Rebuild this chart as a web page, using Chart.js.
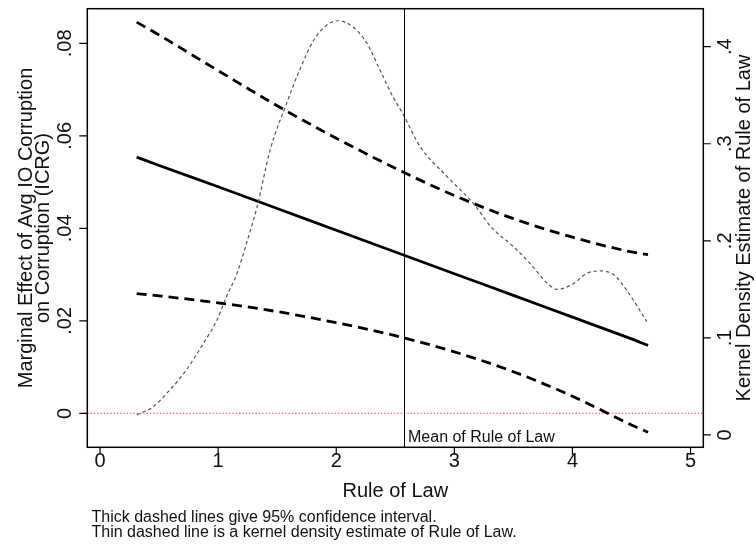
<!DOCTYPE html>
<html>
<head>
<meta charset="utf-8">
<script src="https://cdn.jsdelivr.net/npm/chart.js@4.4.1/dist/chart.umd.min.js"></script>
<style>
	body { margin: 0; background: #fff; }
	#wrap { width: 756px; height: 544px; }
</style>
</head>
<body>
<div id="wrap"><canvas id="meChart" width="756" height="544"></canvas></div>
<script>
/* Marginal effect and 95% CI */
var ruleGrid = [0.31, 0.5, 1, 1.5, 2, 2.5, 3, 3.5, 4, 4.5, 4.64];
var effect = [0.0554, 0.0536, 0.0490, 0.0443, 0.0396, 0.0349, 0.0302, 0.0255, 0.0208, 0.0161, 0.0147];
var ciUpper = [0.0846, 0.0818, 0.0741, 0.0665, 0.0595, 0.0530, 0.0471, 0.0421, 0.0381, 0.0349, 0.0343];
var ciLower = [0.0259, 0.0254, 0.0239, 0.0220, 0.0196, 0.0168, 0.0133, 0.0090, 0.0037, -0.0025, -0.0041];

/* Kernel density of Rule of Law (right axis) */
var densX = [0.31, 0.45, 0.59, 0.73, 0.875, 0.99, 1.07, 1.16, 1.24, 1.33, 1.44, 1.58, 1.69, 1.81, 1.92, 2.02, 2.14, 2.26, 2.37, 2.48, 2.57, 2.71, 2.94, 3.16, 3.31, 3.50, 3.64, 3.79, 3.87, 4.01, 4.12, 4.24, 4.35, 4.46, 4.63];
var densY = [0.0206, 0.0291, 0.0463, 0.0669, 0.0944, 0.1184, 0.1424, 0.1665, 0.1974, 0.2351, 0.2935, 0.3416, 0.376, 0.4068, 0.4222, 0.4267, 0.4205, 0.4034, 0.376, 0.3484, 0.3296, 0.297, 0.266, 0.2386, 0.2145, 0.194, 0.1768, 0.156, 0.150, 0.156, 0.1665, 0.169, 0.165, 0.149, 0.1167];

var meanRule = 2.57;

/* Tick values and labels */
var xTicks = [0, 1, 2, 3, 4, 5];
var xTickLabels = ["0", "1", "2", "3", "4", "5"];
var yTicks = [0, 0.02, 0.04, 0.06, 0.08];
var yTickLabels = ["0", ".02", ".04", ".06", ".08"];
var densTicks = [0, 0.1, 0.2, 0.3, 0.4];
var densTickLabels = ["0", ".1", ".2", ".3", ".4"];

var xTitle = "Rule of Law";
var yTitle = ["Marginal Effect of Avg IO Corruption", "on Corruption (ICRG)"];
var densTitle = "Kernel Density Estimate of Rule of Law";
var meanLabel = "Mean of Rule of Law";
var notes = ["Thick dashed lines give 95% confidence interval.", "Thin dashed line is a kernel density estimate of Rule of Law."];

var fontFamily = "'Liberation Sans', Arial, Helvetica, sans-serif";

function toPoints(xs, ys) {
	var pts = [];
	for (var i = 0; i < xs.length; i++) {
		pts.push({ x: xs[i], y: ys[i] });
	}
	return pts;
}

// rotated text, centred on (cx, cy), reading bottom to top
function rotatedText(ctx, text, cx, cy, size) {
	ctx.save();
	ctx.translate(cx, cy);
	ctx.rotate(-Math.PI / 2);
	ctx.textAlign = "center";
	ctx.textBaseline = "alphabetic";
	ctx.fillText(text, 0, size * 0.716 / 2);
	ctx.restore();
}

var stataDecor = {
	id: "stataDecor",
	beforeDatasetsDraw: function (chart) {
		var ctx = chart.ctx;
		var area = chart.chartArea;
		var y0 = chart.scales.y.getPixelForValue(0);
		ctx.save();
		ctx.strokeStyle = "#ff5050";
		ctx.lineWidth = 1.2;
		ctx.setLineDash([1.2, 2.1]);
		ctx.beginPath();
		ctx.moveTo(area.left, y0);
		ctx.lineTo(area.right, y0);
		ctx.stroke();
		ctx.restore();
	},
	afterDatasetsDraw: function (chart) {
		var ctx = chart.ctx;
		var area = chart.chartArea;
		var xs = chart.scales.x;
		var ys = chart.scales.y;
		var yr = chart.scales.yR;
		var i;

		// mean line and its label
		var xm = Math.round(xs.getPixelForValue(meanRule)) + 0.5;
		ctx.save();
		ctx.strokeStyle = "#000";
		ctx.lineWidth = 1;
		ctx.beginPath();
		ctx.moveTo(xm, area.top);
		ctx.lineTo(xm, area.bottom);
		ctx.stroke();
		ctx.fillStyle = "#111";
		ctx.font = "16px " + fontFamily;
		ctx.textAlign = "left";
		ctx.textBaseline = "alphabetic";
		ctx.fillText(meanLabel, xm + 3.5, area.bottom - 5.5);

		// frame
		ctx.lineWidth = 1.5;
		ctx.strokeRect(area.left, area.top, area.right - area.left, area.bottom - area.top);

		// tick marks
		ctx.lineWidth = 1.2;
		ctx.beginPath();
		for (i = 0; i < xTicks.length; i++) {
			var px = xs.getPixelForValue(xTicks[i]);
			ctx.moveTo(px, area.bottom);
			ctx.lineTo(px, area.bottom + 7.5);
		}
		for (i = 0; i < yTicks.length; i++) {
			var py = ys.getPixelForValue(yTicks[i]);
			ctx.moveTo(area.left - 8, py);
			ctx.lineTo(area.left, py);
		}
		for (i = 0; i < densTicks.length; i++) {
			var pr = yr.getPixelForValue(densTicks[i]);
			ctx.moveTo(area.right, pr);
			ctx.lineTo(area.right + 7.5, pr);
		}
		ctx.stroke();

		// tick labels
		ctx.fillStyle = "#111";
		ctx.font = "20px " + fontFamily;
		ctx.textAlign = "center";
		for (i = 0; i < xTicks.length; i++) {
			ctx.fillText(xTickLabels[i], xs.getPixelForValue(xTicks[i]), area.bottom + 19.5);
		}
		for (i = 0; i < yTicks.length; i++) {
			rotatedText(ctx, yTickLabels[i], area.left - 23, ys.getPixelForValue(yTicks[i]), 20);
		}
		for (i = 0; i < densTicks.length; i++) {
			rotatedText(ctx, densTickLabels[i], area.right + 20.5, yr.getPixelForValue(densTicks[i]), 20);
		}

		// axis titles
		var midX = (area.left + area.right) / 2;
		var midY = (area.top + area.bottom) / 2;
		ctx.textAlign = "center";
		ctx.fillText(xTitle, midX, area.bottom + 49.5);
		rotatedText(ctx, yTitle[0], 24.5, midY, 20);
		rotatedText(ctx, yTitle[1], 42, midY, 20);
		rotatedText(ctx, densTitle, 743, midY, 20);

		// notes under the graph
		ctx.font = "16px " + fontFamily;
		ctx.textAlign = "left";
		ctx.fillText(notes[0], 91.5, 521.5);
		ctx.fillText(notes[1], 91.5, 537);
		ctx.restore();
	}
};

window.addEventListener("DOMContentLoaded", function () {
	const ctx = document.getElementById("meChart").getContext("2d");
	const data = {
		datasets: [
			{
				label: "density",
				data: toPoints(densX, densY),
				yAxisID: "yR",
				borderColor: "#555555",
				borderWidth: 1.2,
				borderDash: [3.5, 2.8],
				cubicInterpolationMode: "monotone",
				pointRadius: 0,
				fill: false
			},
			{
				label: "upper",
				data: toPoints(ruleGrid, ciUpper),
				yAxisID: "y",
				borderColor: "#000",
				borderWidth: 2.8,
				borderDash: [10, 6],
				cubicInterpolationMode: "monotone",
				pointRadius: 0,
				fill: false
			},
			{
				label: "lower",
				data: toPoints(ruleGrid, ciLower),
				yAxisID: "y",
				borderColor: "#000",
				borderWidth: 2.8,
				borderDash: [10, 6],
				cubicInterpolationMode: "monotone",
				pointRadius: 0,
				fill: false
			},
			{
				label: "effect",
				data: toPoints(ruleGrid, effect),
				yAxisID: "y",
				borderColor: "#000",
				borderWidth: 2.8,
				cubicInterpolationMode: "monotone",
				pointRadius: 0,
				fill: false
			}
		]
	};
	const options = {
		responsive: false,
		animation: false,
		devicePixelRatio: 1,
		layout: {
			padding: { left: 87.3, right: 52.7, top: 8.7, bottom: 96.7 }
		},
		plugins: {
			legend: { display: false },
			tooltip: { enabled: false }
		},
		scales: {
			x: { type: "linear", min: -0.108, max: 5.108, display: false },
			y: { type: "linear", position: "left", min: -0.00734, max: 0.0875, display: false },
			yR: { type: "linear", position: "right", min: -0.0127, max: 0.4391, display: false }
		}
	};
	var myChart = new Chart(ctx, {
		type: "line",
		data,
		options,
		plugins: [stataDecor]
	});
}, false);
</script>
</body>
</html>
